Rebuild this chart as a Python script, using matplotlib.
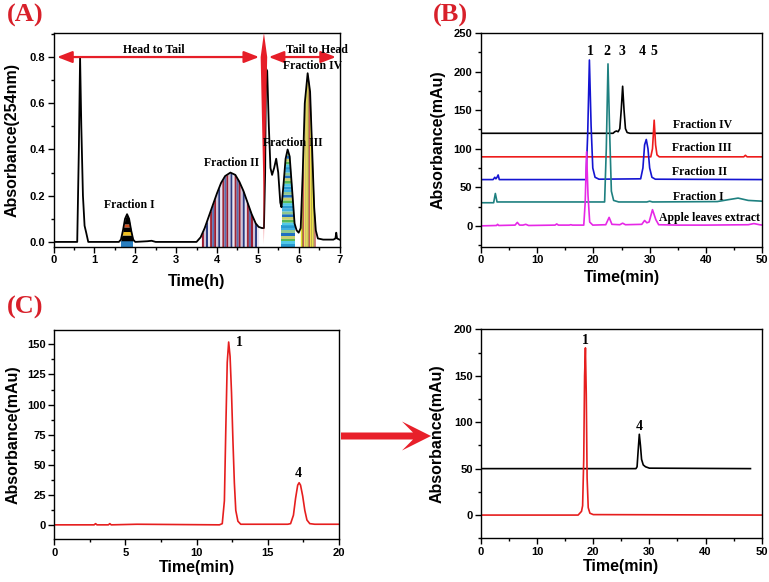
import numpy as np
import matplotlib
matplotlib.use("Agg")
import matplotlib.pyplot as plt
from matplotlib.patches import Polygon
from matplotlib.ticker import MultipleLocator

plt.rcParams['font.family'] = ['Liberation Sans', 'DejaVu Sans']
plt.rcParams['font.weight'] = 'bold'

RED = '#e61e28'
SERIF = ['Liberation Serif', 'DejaVu Serif']

# ---- panel A : HSCCC trace (time h, absorbance 254 nm)
tA = [0, 0.58, 0.62, 0.65, 0.68, 0.72, 0.76, 0.8, 0.85, 1.6, 1.65, 1.7, 1.75, 1.8, 1.85, 1.9, 1.95,
      2.0, 2.3, 2.4, 2.5, 3.5, 3.6, 3.7, 3.8, 3.9, 4.0, 4.1, 4.2, 4.33, 4.45, 4.55, 4.65, 4.75,
      4.85, 4.95, 5.02, 5.1, 5.15, 5.18, 5.2, 5.23, 5.27, 5.31, 5.35, 5.4, 5.45, 5.5, 5.55, 5.58,
      5.63, 5.68, 5.73, 5.78, 5.83, 5.9, 5.95, 6.0, 6.05, 6.1, 6.15, 6.22, 6.28, 6.33, 6.38, 6.42,
      6.47, 6.6, 6.85, 6.9, 6.92, 6.94, 7.0]
aA = [0, 0, 0.4, 0.8, 0.5, 0.2, 0.07, 0.04, 0.0, 0.0, 0.01, 0.05, 0.1, 0.12, 0.1, 0.05, 0.01,
      0.0, 0.003, 0.005, 0.0, 0.0, 0.02, 0.06, 0.11, 0.16, 0.21, 0.255, 0.285, 0.3, 0.29, 0.26,
      0.22, 0.17, 0.12, 0.08, 0.065, 0.06, 0.06, 0.3, 0.75, 0.74, 0.5, 0.32, 0.29, 0.32, 0.36,
      0.3, 0.17, 0.15, 0.25, 0.36, 0.4, 0.37, 0.25, 0.08, 0.05, 0.04, 0.06, 0.3, 0.6, 0.73, 0.65,
      0.4, 0.15, 0.05, 0.015, 0.01, 0.01, 0.015, 0.04, 0.015, 0.01]

# ---- panel B : HPLC of fractions (time min, mAu)
tIV = [0, 23.5, 23.8, 24.1, 24.4, 24.7, 24.95, 25.2, 25.45, 25.7, 26.0, 26.5, 50]
yIV = [120, 120, 122, 123, 122, 126, 150, 181, 150, 126, 121, 120, 120]
tIII = [0, 30.2, 30.5, 30.8, 31.05, 31.3, 31.7, 46.7, 47.0, 47.3, 50]
yIII = [89.5, 89.5, 100, 137, 105, 92, 89.5, 89.5, 91.5, 89.5, 89.5]
tII = [0, 2.2, 2.5, 2.7, 2.9, 3.1, 3.3, 18.7, 19.0, 19.3, 19.6, 19.9, 20.3, 21, 28.4, 28.8,
       29.1, 29.4, 29.7, 30.0, 30.4, 31, 50]
yII = [60, 60, 63, 61, 63, 66, 60, 60, 120, 215, 130, 75, 63, 60.5, 61, 75, 105, 112, 100, 75,
       63, 60.5, 60]
tI = [0, 2.3, 2.6, 2.9, 22.0, 22.3, 22.6, 22.9, 23.2, 23.6, 24.5, 29.5, 30, 30.5, 42, 44, 45.7,
      47.5, 50]
yI = [30, 30, 42, 31, 31, 100, 210, 120, 45, 33, 31, 31, 32, 31, 31.5, 34, 36, 33, 32]
tApple = [0, 2.8, 3.0, 3.2, 6.1, 6.5, 6.9, 7.5, 8.0, 8.5, 13.2, 13.5, 13.8, 15.7, 16.0, 16.3,
          18.3, 18.55, 18.8, 19.05, 19.35, 19.9, 22.2, 22.8, 23.3, 24.7, 25.2, 25.7, 28.6, 29.1,
          29.5, 29.9, 30.5, 31.1, 31.6, 35, 40, 47.5, 48.5, 49.5, 50]
yApple = [0, 0.5, 2, 0.5, 1, 4.5, 1, 1, 2, 0.5, 1, 2.5, 1, 1, 1.5, 1, 1, 30, 96, 40, 5, 1, 1.5,
          11, 2, 1.5, 3.5, 1.5, 2, 7, 4, 5, 21, 8, 1.5, 1, 1, 1.5, 3, 1.5, 1]
fractionNames = ["Fraction IV", "Fraction III", "Fraction II", "Fraction I", "Apple leaves extract"]
peakNums = ["1", "2", "3", "4", "5"]
peakTimes = [19.4, 22.4, 25.1, 28.7, 30.8]

# ---- panel C : preparative HPLC
tC = [0, 2.8, 2.9, 3.0, 3.8, 3.9, 4.0, 5.8, 11.6, 11.8, 11.95, 12.05, 12.15, 12.25, 12.35, 12.45,
      12.55, 12.65, 12.75, 12.9, 13.1, 16.4, 16.6, 16.8, 16.95, 17.1, 17.2, 17.3, 17.45, 17.6,
      17.75, 17.95, 18.3, 20]
yC = [0, 0, 1, 0, 0, 1, 0, 0.5, 0, 1, 20, 80, 135, 152, 140, 110, 70, 35, 12, 3, 0.5, 0.5, 1,
      8, 22, 33, 35, 33, 24, 12, 4, 1, 0.5, 0.5]
tD1 = [0, 17.3, 17.6, 17.9, 18.1, 18.3, 18.45, 18.6, 18.75, 18.9, 19.1, 19.4, 20, 50]
yD1 = [0, 0, 2, 4, 10, 60, 150, 180, 130, 40, 8, 2, 0.5, 0]
tD4 = [0.3, 27.6, 27.8, 28.0, 28.2, 28.4, 28.6, 28.9, 29.3, 30, 48]
yD4 = [50, 50, 52, 70, 87, 75, 60, 54, 52, 50.5, 50]


def style(ax, xlim, ylim, xmaj, xmin, ymaj, ymin, xlabel, ylabel):
    ax.set_xlim(*xlim)
    ax.set_ylim(*ylim)
    ax.xaxis.set_major_locator(MultipleLocator(xmaj))
    ax.xaxis.set_minor_locator(MultipleLocator(xmin))
    ax.yaxis.set_major_locator(MultipleLocator(ymaj))
    ax.yaxis.set_minor_locator(MultipleLocator(ymin))
    ax.tick_params(which='major', length=4, width=1, labelsize=8, pad=2)
    ax.tick_params(which='minor', length=2, width=1)
    for lab in ax.get_xticklabels() + ax.get_yticklabels():
        lab.set_fontweight('bold')
    for s in ax.spines.values():
        s.set_linewidth(1.0)
    ax.set_xlabel(xlabel, fontsize=11.5, fontweight='bold')
    ax.set_ylabel(ylabel, fontsize=11.5, fontweight='bold')


def vstripes(ax, x, y, x0, x1, w, colors, ybot):
    edges = np.arange(x0, x1 + 1e-9, w)
    for k in range(len(edges) - 1):
        xs = np.linspace(edges[k], min(edges[k + 1], x1), 6)
        ax.fill_between(xs, ybot, np.interp(xs, x, y), color=colors[k % len(colors)], lw=0, zorder=1)


def hstripes(ax, x, y, x0, x1, levels, colors):
    xs = np.linspace(x0, x1, 80)
    ys = np.interp(xs, x, y)
    for k in range(len(levels) - 1):
        lo, hi = levels[k], levels[k + 1]
        ax.fill_between(xs, lo, np.clip(ys, lo, hi), where=ys > lo, color=colors[k % len(colors)],
                        lw=0, zorder=1)


fig = plt.figure(figsize=(7.69, 5.82), dpi=100)
axA = fig.add_axes([0.0696, 0.5756, 0.3719, 0.3677])
axB = fig.add_axes([0.6251, 0.5761, 0.3662, 0.3672])
axC = fig.add_axes([0.0706, 0.0734, 0.3702, 0.3596])
axD = fig.add_axes([0.6255, 0.0751, 0.3650, 0.3591])

# ---------- A
ybotA = -0.022
hstripes(axA, tA, aA, 1.65, 1.95, [ybotA, 0.005, 0.03, 0.045, 0.065, 0.078, 0.13],
         ['#2a7fc0', 'black', '#f0c020', 'black', '#d05020', 'black'])
vstripes(axA, tA, aA, 3.62, 5.05, 0.05, ['#9b1b30', '#cfc4d8', '#2b3a80', '#e8e4f0', '#a02838', '#5a6fb0'], ybotA)
hstripes(axA, tA, aA, 5.58, 5.9, np.arange(ybotA, 0.42, 0.012),
         ['#2a9ad0', '#50c8e8', '#58b858', '#c8d070', '#2070c0', '#90c890', '#40b0e0'])
vstripes(axA, tA, aA, 6.04, 6.42, 0.028, ['#e8e020', '#a09030', '#c04848', '#f0e050', '#b8a840'], ybotA)
axA.plot(tA, aA, color='black', lw=1.3, zorder=3)
axA.add_patch(Polygon([(5.15, 0.904), (5.23, 0.8), (5.17, 0.3), (5.15, -0.01), (5.13, 0.3), (5.07, 0.8)],
                      closed=True, color=RED, lw=0, zorder=4))
arrowKw = dict(arrowstyle='<|-|>,head_length=0.9,head_width=0.35', color=RED, lw=1.6, mutation_scale=10)
axA.annotate('', xy=(0.02, 0.8), xytext=(5.1, 0.8), arrowprops=arrowKw, zorder=5)
axA.annotate('', xy=(5.2, 0.8), xytext=(6.98, 0.8), arrowprops=arrowKw, zorder=5)
tk = dict(family=SERIF, fontweight='bold', fontsize=8.5, ha='center', va='center', zorder=6)
axA.text(2.45, 0.83, 'Head to Tail', **tk)
axA.text(6.45, 0.83, 'Tail to Head', **tk)
axA.text(6.35, 0.762, 'Fraction IV', **tk)
axA.text(5.85, 0.43, 'Fraction III', **tk)
axA.text(4.35, 0.34, 'Fraction II', **tk)
axA.text(1.85, 0.16, 'Fraction I', **tk)
style(axA, (0, 7), (ybotA, 0.904), 1, 0.5, 0.2, 0.1, 'Time(h)', 'Absorbance(254nm)')

# ---------- B
colorsB = ['black', '#ee1c1c', '#1414d2', '#1e8080', '#e628e6']
seriesB = [(tIV, yIV), (tIII, yIII), (tII, yII), (tI, yI), (tApple, yApple)]
for (t, y), c in zip(seriesB, colorsB):
    axB.plot(t, y, color=c, lw=1.2)
labelY = [131, 101, 70, 37.5, 10]
labelX = [39.4, 39.2, 38.9, 38.6, 40.6]
for name, lx, ly in zip(fractionNames, labelX, labelY):
    axB.text(lx, ly, name, family=SERIF, fontweight='bold', fontsize=8.5, ha='center', va='center')
for num, pt in zip(peakNums, peakTimes):
    axB.text(pt, 226, num, family=SERIF, fontweight='bold', fontsize=10, ha='center', va='center')
style(axB, (0, 50), (-27, 250), 10, 5, 50, 25, 'Time(min)', 'Absorbance(mAu)')

# ---------- C left
axC.plot(tC, yC, color='#e61e1e', lw=1.2)
axC.text(12.75, 152, '1', family=SERIF, fontweight='bold', fontsize=10, ha='left', va='center')
axC.text(17.15, 43, '4', family=SERIF, fontweight='bold', fontsize=10, ha='center', va='center')
style(axC, (0, 20), (-12, 162), 5, 2.5, 25, 12.5, 'Time(min)', 'Absorbance(mAu)')

# ---------- C right
axD.plot(tD4, yD4, color='black', lw=1.2)
axD.plot(tD1, yD1, color='#e61e1e', lw=1.2)
axD.text(18.65, 188, '1', family=SERIF, fontweight='bold', fontsize=10, ha='center', va='center')
axD.text(28.2, 95, '4', family=SERIF, fontweight='bold', fontsize=10, ha='center', va='center')
style(axD, (0, 50), (-25, 200), 10, 5, 50, 25, 'Time(min)', 'Absorbance(mAu)')

axA.yaxis.set_label_coords(-0.117, 0.5)
axB.yaxis.set_label_coords(-0.123, 0.5)
axC.yaxis.set_label_coords(-0.12, 0.5)
axD.yaxis.set_label_coords(-0.129, 0.5)
axA.xaxis.set_label_coords(0.5, -0.125)
axB.xaxis.set_label_coords(0.5, -0.11)
axC.xaxis.set_label_coords(0.5, -0.099)
axD.xaxis.set_label_coords(0.5, -0.098)

# panel letters
for lx, ly, s in [(25, 15, '(A)'), (450, 15, '(B)'), (25, 307, '(C)')]:
    fig.text(lx / 769, 1 - ly / 582, s, family=SERIF, fontweight='bold', fontsize=19, color='#d8202a',
             ha='center', va='center')

# big arrow between the C panels (pixel coords -> figure fraction)
arrowPx = [(341, 432.5), (413, 432.5), (402, 421.5), (431, 436), (402, 450.5), (413, 439.5), (341, 439.5)]
fig.add_artist(Polygon([(px / 769, 1 - py / 582) for px, py in arrowPx], closed=True,
                       color='#e8202a', lw=0, transform=fig.transFigure))

fig.savefig('out.png', dpi=100)
